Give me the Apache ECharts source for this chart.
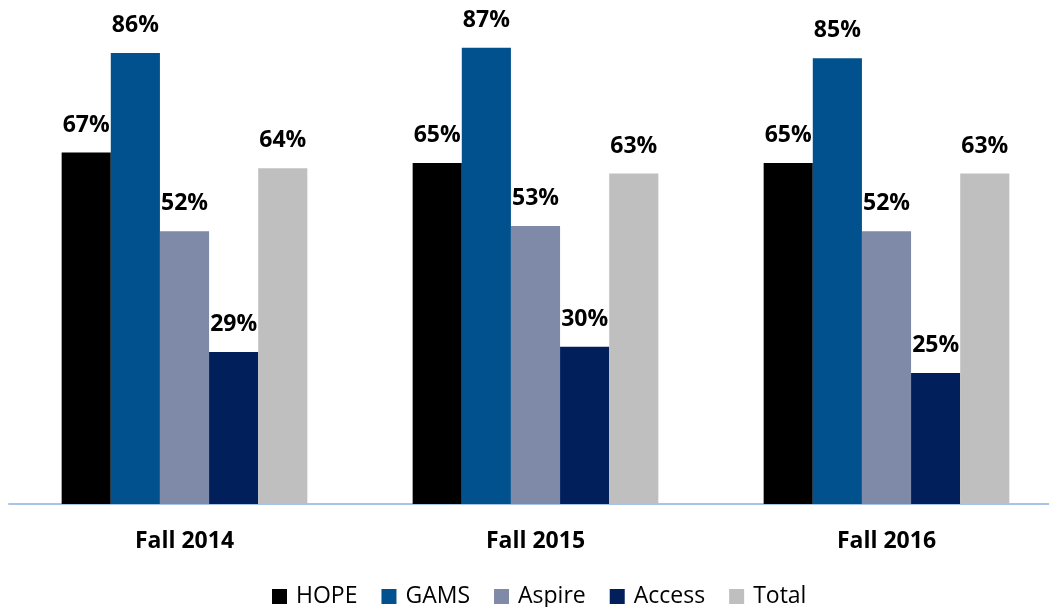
<!DOCTYPE html>
<html>
<head>
<meta charset="utf-8">
<script src="https://cdn.jsdelivr.net/npm/echarts@6/dist/echarts.min.js"></script>
<style>
  html, body { margin: 0; padding: 0; background: #fff; }
  #chart { width: 1049px; height: 607px; }
</style>
</head>
<body>
<div id="chart"></div>
<script>
const categories = [ 'Fall 2014', 'Fall 2015', 'Fall 2016' ]
const hope = [ 67, 65, 65 ]
const gams = [ 86, 87, 85 ]
const aspire = [ 52, 53, 52 ]
const access = [ 29, 30, 25 ]
const total = [ 64, 63, 63 ]

const seriesDefs = [
  { name : 'HOPE', data : hope, color : '#000000' },
  { name : 'GAMS', data : gams, color : '#00518e' },
  { name : 'Aspire', data : aspire, color : '#7f8aa8' },
  { name : 'Access', data : access, color : '#001f5b' },
  { name : 'Total', data : total, color : '#bfbfbf' }
]

const chart = echarts.init( document.getElementById( 'chart' ) )

chart.setOption( {
  animation : false,
  textStyle : { fontFamily : 'Open Sans' },
  grid : {
    left : 9,
    width : 1053,
    top : 32,
    bottom : 103,
    outerBoundsMode : 'none'
  },
  legend : {
    bottom : -6,
    left : 267,
    itemWidth : 15,
    itemHeight : 15,
    itemGap : 24,
    icon : 'rect',
    textStyle : {
      fontSize : 23,
      color : '#000',
      fontFamily : 'Open Sans',
      padding : [ 0, 0, 0, 4 ]
    },
    data : seriesDefs.map( s => s.name )
  },
  xAxis : {
    type : 'category',
    data : categories,
    axisLine : { lineStyle : { color : '#a9c4ea', width : 2 }},
    axisTick : { show : false },
    axisLabel : {
      margin : 26,
      fontSize : 23,
      fontWeight : 'bold',
      color : '#000',
      fontFamily : 'Open Sans'
    }
  },
  yAxis : {
    type : 'value',
    min : 0,
    max : 90,
    show : false,
    splitLine : { show : false }
  },
  series : seriesDefs.map( s => ( {
    name : s.name,
    type : 'bar',
    data : s.data,
    barGap : '0%',
    barCategoryGap : '30%',
    itemStyle : { color : s.color },
    label : {
      show : true,
      position : 'top',
      distance : 16,
      formatter : '{c}%',
      fontSize : 23,
      fontWeight : 'bold',
      color : '#000',
      fontFamily : 'Open Sans'
    }
  } ) )
} )
</script>
</body>
</html>
